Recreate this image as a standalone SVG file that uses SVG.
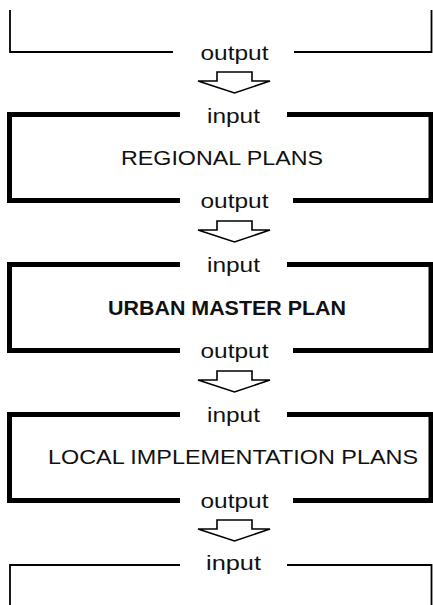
<svg xmlns="http://www.w3.org/2000/svg" width="433" height="605" viewBox="0 0 433 605">
  <style>
    .thin { fill: none; stroke: #000; stroke-width: 1.8; }
    .thick { fill: none; stroke: #000; stroke-width: 5; stroke-linejoin: miter; }
    .port { font-family: "Liberation Sans", Arial, sans-serif; font-size: 20px; fill: #111; text-anchor: middle; }
    .title { font-family: "Liberation Sans", Arial, sans-serif; font-size: 21px; fill: #111; }
    .bold { font-weight: bold; }
    .arrow { fill: #fff; stroke: #000; stroke-width: 1.6; stroke-linejoin: miter; }
  </style>
  <defs>
    <polygon id="down" class="arrow" points="217,0 252,0 252,9 270,9 234.5,21 198,9 217,9"/>
  </defs>

  <rect width="433" height="605" fill="#fff"/>

  <!-- upstream plan (open at top) -->
  <g id="upstream">
    <path class="thin" d="M10,10 V52 H173"/>
    <path class="thin" d="M294,52 H431.5 V10"/>
    <text class="port" x="234.5" y="59.5" textLength="68" lengthAdjust="spacingAndGlyphs">output</text>
  </g>

  <!-- regional plans -->
  <g id="regional">
    <path class="thick" d="M180,114.5 H9.5 V200.5 H180"/>
    <path class="thick" d="M287,114.5 H431 V200.5 H293"/>
    <text class="port" x="233.5" y="123" textLength="53" lengthAdjust="spacingAndGlyphs">input</text>
    <text class="title" x="121" y="165" textLength="202" lengthAdjust="spacingAndGlyphs">REGIONAL PLANS</text>
    <text class="port" x="234.5" y="208" textLength="68" lengthAdjust="spacingAndGlyphs">output</text>
  </g>

  <!-- urban master plan -->
  <g id="master">
    <path class="thick" d="M180,264.5 H9.5 V350.5 H180"/>
    <path class="thick" d="M287,264.5 H431 V350.5 H293"/>
    <text class="port" x="233.5" y="272" textLength="53" lengthAdjust="spacingAndGlyphs">input</text>
    <text class="title bold" x="108" y="315" textLength="238" lengthAdjust="spacingAndGlyphs">URBAN MASTER PLAN</text>
    <text class="port" x="234.5" y="358" textLength="68" lengthAdjust="spacingAndGlyphs">output</text>
  </g>

  <!-- local implementation plans -->
  <g id="local">
    <path class="thick" d="M180,414.5 H9.5 V500.5 H180"/>
    <path class="thick" d="M287,414.5 H431 V500.5 H293"/>
    <text class="port" x="233.5" y="422" textLength="53" lengthAdjust="spacingAndGlyphs">input</text>
    <text class="title" x="48" y="464" textLength="370" lengthAdjust="spacingAndGlyphs">LOCAL IMPLEMENTATION PLANS</text>
    <text class="port" x="234.5" y="508" textLength="68" lengthAdjust="spacingAndGlyphs">output</text>
  </g>

  <!-- downstream plan (open at bottom) -->
  <g id="downstream">
    <path class="thin" d="M180,565 H10 V605"/>
    <path class="thin" d="M287,565 H431.5 V605"/>
    <text class="port" x="233.5" y="570" textLength="55" lengthAdjust="spacingAndGlyphs">input</text>
  </g>

  <!-- hollow flow arrows between stages -->
  <g id="connectors">
    <use href="#down" y="72"/>
    <use href="#down" y="221"/>
    <use href="#down" y="371"/>
    <use href="#down" y="520"/>
  </g>
</svg>
